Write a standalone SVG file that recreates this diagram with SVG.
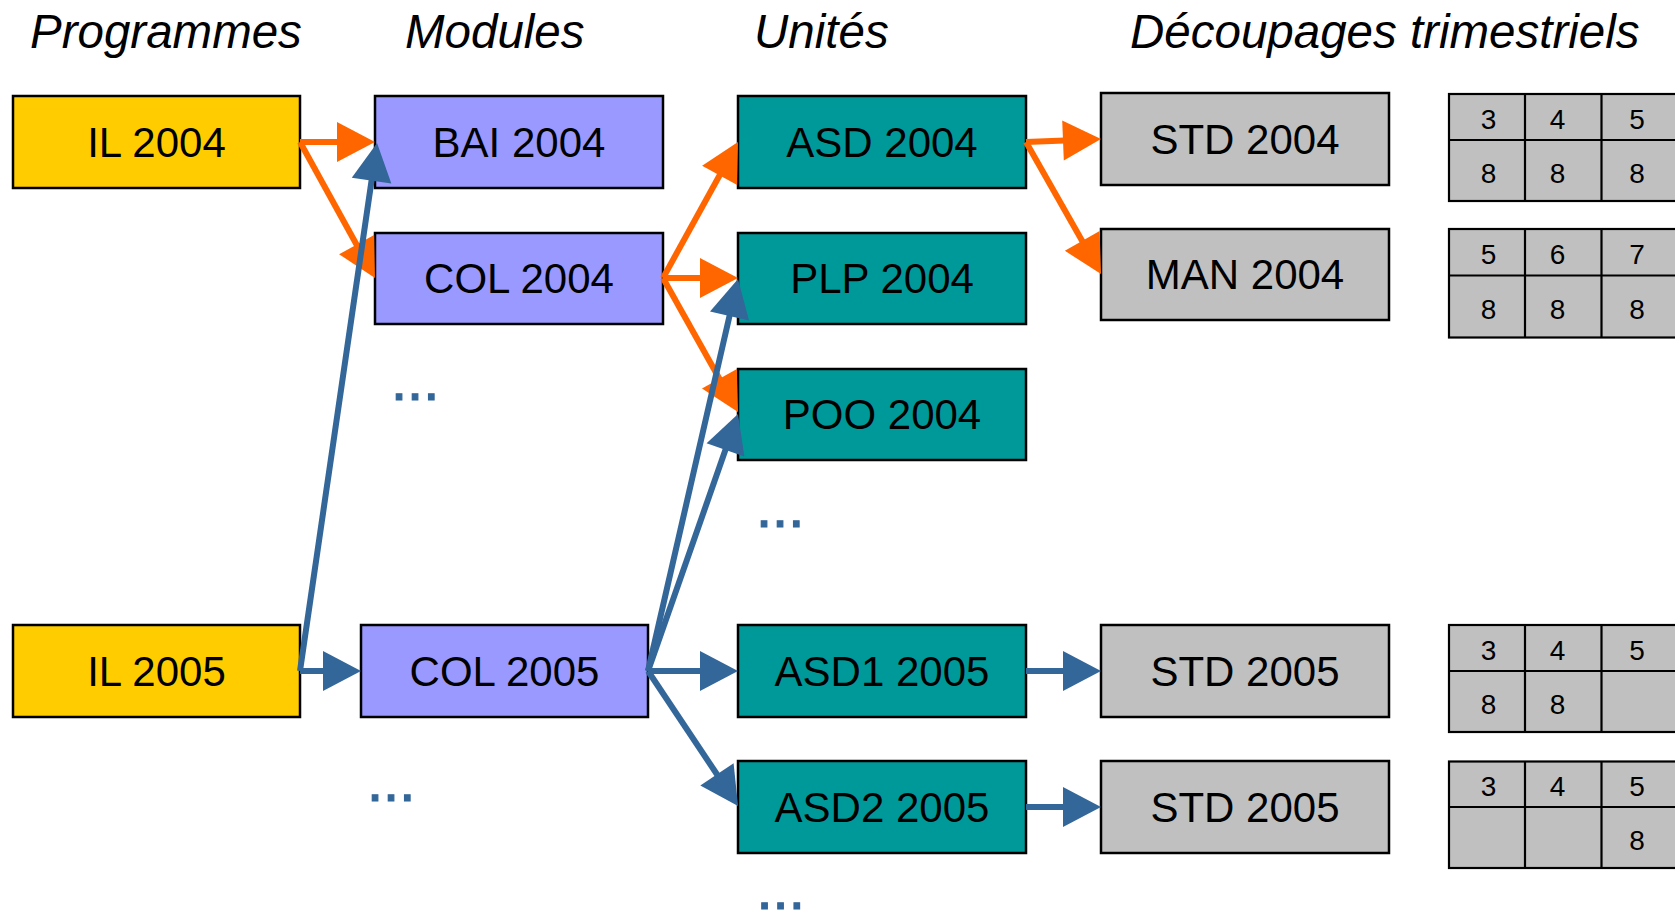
<svg xmlns="http://www.w3.org/2000/svg" width="1675" height="911" viewBox="0 0 1675 911">
<style>
  .hdr { font-family: "Liberation Sans", Arial, sans-serif; font-style: italic; font-size: 47.5px; fill: #000; }
  .lbl { font-family: "Liberation Sans", Arial, sans-serif; font-size: 42px; fill: #000; text-anchor: middle; }
  .box { stroke: #000; stroke-width: 2.5; }
  .prog { fill: #FFCC00; }
  .mod { fill: #9999FF; }
  .unit { fill: #009999; }
  .dec { fill: #C0C0C0; }
  .tbl { fill: #C0C0C0; stroke: #000; stroke-width: 2.2; }
  .cell { stroke: #000; stroke-width: 2.2; }
  .num { font-family: "Liberation Sans", Arial, sans-serif; font-size: 28px; fill: #000; text-anchor: middle; }
  .dots { font-family: "Liberation Sans", Arial, sans-serif; font-size: 58px; fill: #336699; stroke: #336699; stroke-width: 1.2; }
  .or { stroke: #FF6600; stroke-width: 6; fill: none; marker-end: url(#ao); }
  .bl { stroke: #336699; stroke-width: 6; fill: none; marker-end: url(#ab); }
</style>
<defs>
  <marker id="ao" markerUnits="userSpaceOnUse" markerWidth="38" markerHeight="40" refX="8" refY="20" orient="auto" overflow="visible">
    <path d="M0,0 L38,20 L0,40 Z" fill="#FF6600"/>
  </marker>
  <marker id="ab" markerUnits="userSpaceOnUse" markerWidth="38" markerHeight="40" refX="8" refY="20" orient="auto" overflow="visible">
    <path d="M0,0 L38,20 L0,40 Z" fill="#336699"/>
  </marker>
</defs>
<rect width="1675" height="911" fill="#FFFFFF"/>

<g id="headers">
  <text class="hdr" x="30" y="48">Programmes</text>
  <text class="hdr" x="405" y="48">Modules</text>
  <text class="hdr" x="754" y="48">Unités</text>
  <text class="hdr" x="1130" y="48">Découpages trimestriels</text>
</g>

<g id="il2004"><rect class="box prog" x="13" y="96" width="287" height="92"/><text class="lbl" x="156.5" y="157">IL 2004</text></g>
<g id="il2005"><rect class="box prog" x="13" y="625" width="287" height="92"/><text class="lbl" x="156.5" y="686">IL 2005</text></g>

<g id="bai2004"><rect class="box mod" x="375" y="96" width="288" height="92"/><text class="lbl" x="519" y="157">BAI 2004</text></g>
<g id="col2004"><rect class="box mod" x="375" y="233" width="288" height="91"/><text class="lbl" x="519" y="293">COL 2004</text></g>
<g id="col2005"><rect class="box mod" x="361" y="625" width="287" height="92"/><text class="lbl" x="504.5" y="686">COL 2005</text></g>

<g id="asd2004"><rect class="box unit" x="738" y="96" width="288" height="92"/><text class="lbl" x="882" y="157">ASD 2004</text></g>
<g id="plp2004"><rect class="box unit" x="738" y="233" width="288" height="91"/><text class="lbl" x="882" y="293">PLP 2004</text></g>
<g id="poo2004"><rect class="box unit" x="738" y="369" width="288" height="91"/><text class="lbl" x="882" y="429">POO 2004</text></g>
<g id="asd12005"><rect class="box unit" x="738" y="625" width="288" height="92"/><text class="lbl" x="882" y="686">ASD1 2005</text></g>
<g id="asd22005"><rect class="box unit" x="738" y="761" width="288" height="92"/><text class="lbl" x="882" y="822">ASD2 2005</text></g>

<g id="std2004"><rect class="box dec" x="1101" y="93" width="288" height="92"/><text class="lbl" x="1245" y="154">STD 2004</text></g>
<g id="man2004"><rect class="box dec" x="1101" y="229" width="288" height="91"/><text class="lbl" x="1245" y="289">MAN 2004</text></g>
<g id="std2005a"><rect class="box dec" x="1101" y="625" width="288" height="92"/><text class="lbl" x="1245" y="686">STD 2005</text></g>
<g id="std2005b"><rect class="box dec" x="1101" y="761" width="288" height="92"/><text class="lbl" x="1245" y="822">STD 2005</text></g>

<g id="table1">
  <rect class="tbl" x="1449" y="94" width="232" height="107"/>
  <path class="cell" d="M1449,140 H1681 M1525,94 V201 M1601.5,94 V201"/>
  <text class="num" x="1488.5" y="129">3</text><text class="num" x="1557.5" y="129">4</text><text class="num" x="1637" y="129">5</text>
  <text class="num" x="1488.5" y="183">8</text><text class="num" x="1557.5" y="183">8</text><text class="num" x="1637" y="183">8</text>
</g>
<g id="table2">
  <rect class="tbl" x="1449" y="229" width="232" height="108.5"/>
  <path class="cell" d="M1449,275.5 H1681 M1525,229 V337.5 M1601.5,229 V337.5"/>
  <text class="num" x="1488.5" y="264">5</text><text class="num" x="1557.5" y="264">6</text><text class="num" x="1637" y="264">7</text>
  <text class="num" x="1488.5" y="319">8</text><text class="num" x="1557.5" y="319">8</text><text class="num" x="1637" y="319">8</text>
</g>
<g id="table3">
  <rect class="tbl" x="1449" y="625" width="232" height="107"/>
  <path class="cell" d="M1449,671 H1681 M1525,625 V732 M1601.5,625 V732"/>
  <text class="num" x="1488.5" y="660">3</text><text class="num" x="1557.5" y="660">4</text><text class="num" x="1637" y="660">5</text>
  <text class="num" x="1488.5" y="714">8</text><text class="num" x="1557.5" y="714">8</text>
</g>
<g id="table4">
  <rect class="tbl" x="1449" y="761.5" width="232" height="106.5"/>
  <path class="cell" d="M1449,807 H1681 M1525,761.5 V868 M1601.5,761.5 V868"/>
  <text class="num" x="1488.5" y="796">3</text><text class="num" x="1557.5" y="796">4</text><text class="num" x="1637" y="796">5</text>
  <text class="num" x="1637" y="850">8</text>
</g>

<g id="ellipses">
  <text class="dots" x="391" y="400">...</text>
  <text class="dots" x="367" y="801">...</text>
  <text class="dots" x="756" y="527">...</text>
  <text class="dots" x="756.5" y="909">...</text>
</g>

<g id="connectors">
  <line class="or" x1="300" y1="142" x2="345" y2="142"/>
  <line class="or" x1="300" y1="142" x2="360.5" y2="251.7"/>
  <line class="or" x1="663" y1="278" x2="723.5" y2="168.3"/>
  <line class="or" x1="663" y1="278" x2="708" y2="278"/>
  <line class="or" x1="663" y1="278" x2="723.35" y2="385.8"/>
  <line class="or" x1="1026" y1="142" x2="1071" y2="140.2"/>
  <line class="or" x1="1026" y1="142" x2="1086.2" y2="247.9"/>
  <line class="bl" x1="300" y1="671" x2="372.7" y2="172.7"/>
  <line class="bl" x1="300" y1="671" x2="331" y2="671"/>
  <line class="bl" x1="648" y1="671" x2="731.3" y2="308.2"/>
  <line class="bl" x1="648" y1="671" x2="728.1" y2="442.3"/>
  <line class="bl" x1="648" y1="671" x2="708" y2="671"/>
  <line class="bl" x1="648" y1="671" x2="721.4" y2="781"/>
  <line class="bl" x1="1026" y1="671" x2="1071" y2="671"/>
  <line class="bl" x1="1026" y1="807" x2="1071" y2="807"/>
</g>
</svg>
